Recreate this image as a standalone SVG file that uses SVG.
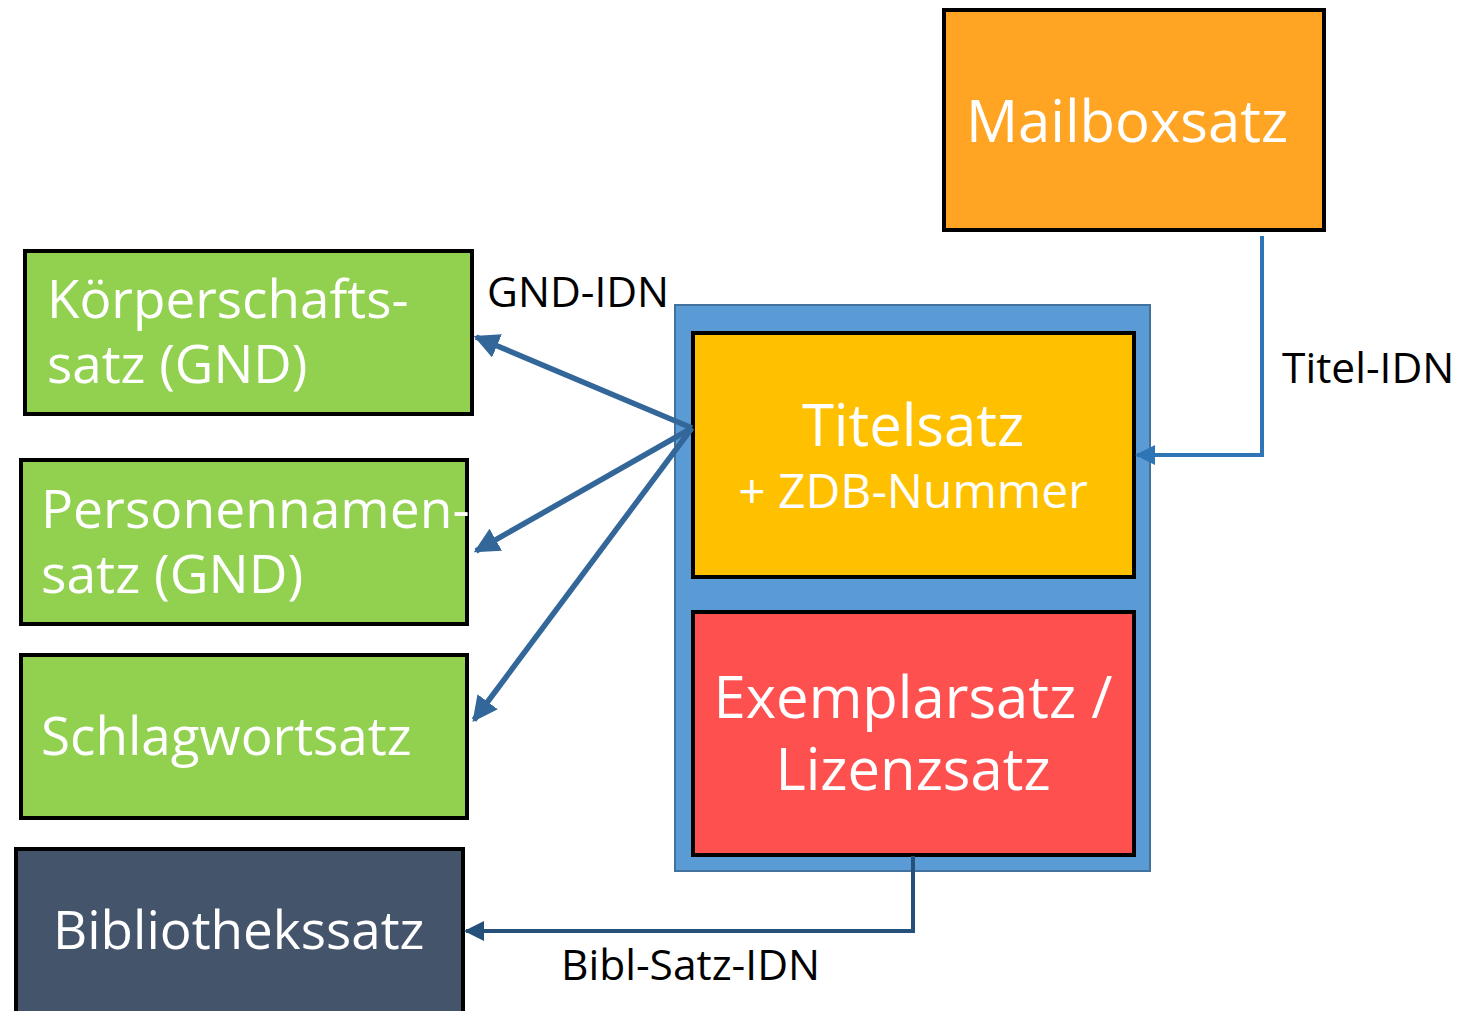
<svg xmlns="http://www.w3.org/2000/svg" width="1481" height="1011" viewBox="0 0 1481 1011">
<defs>
<style>
.box{stroke:#000;stroke-width:4}
.t{font-family:"Open Sans","Noto Sans","Liberation Sans",sans-serif;fill:#fff}
.lbl{font-family:"Open Sans","Noto Sans","Liberation Sans",sans-serif;fill:#000;font-size:42.5px}
</style>
<marker id="ah" viewBox="0 0 10 10" refX="9" refY="5" markerWidth="4.6" markerHeight="4.6" orient="auto" markerUnits="strokeWidth"><path d="M0,0 L10,5 L0,10 z" fill="#336699"/></marker>
<marker id="ah2" viewBox="0 0 10 10" refX="9" refY="5" markerWidth="5" markerHeight="5" orient="auto" markerUnits="strokeWidth"><path d="M0,0 L10,5 L0,10 z" fill="#2E75B6"/></marker>
<marker id="ah3" viewBox="0 0 10 10" refX="9" refY="5" markerWidth="5" markerHeight="5" orient="auto" markerUnits="strokeWidth"><path d="M0,0 L10,5 L0,10 z" fill="#25507A"/></marker>
</defs>
<rect width="1481" height="1011" fill="#fff"/>
<g id="mailbox">
<rect class="box" x="944" y="10" width="380" height="220" fill="#FFA523"/>
<text class="t" x="1127" y="142" font-size="58" text-anchor="middle">Mailboxsatz</text>
</g>
<g id="container">
<rect x="675" y="305" width="475" height="566" fill="#5B9BD5" stroke="#41719C" stroke-width="2"/>
</g>
<g id="titelsatz">
<rect class="box" x="693" y="333" width="441" height="244" fill="#FFC000"/>
<text class="t" x="913" y="446" font-size="58" text-anchor="middle">Titelsatz</text>
<text class="t" x="913" y="508" font-size="48" text-anchor="middle">+ ZDB-Nummer</text>
</g>
<g id="exemplarsatz">
<rect class="box" x="693" y="612" width="441" height="243" fill="#FF5050"/>
<text class="t" x="913" y="718" font-size="58" text-anchor="middle">Exemplarsatz /</text>
<text class="t" x="913" y="790" font-size="58" text-anchor="middle">Lizenzsatz</text>
</g>
<g id="koerperschaft">
<rect class="box" x="25" y="251" width="447" height="163" fill="#92D050"/>
<text class="t" x="47" y="318" font-size="53">Körperschafts-</text>
<text class="t" x="47" y="383" font-size="53">satz (GND)</text>
</g>
<g id="personennamen">
<rect class="box" x="21" y="460" width="446" height="164" fill="#92D050"/>
<text class="t" x="41" y="528" font-size="53.4">Personennamen-</text>
<text class="t" x="41" y="593" font-size="53.4">satz (GND)</text>
</g>
<g id="schlagwort">
<rect class="box" x="21" y="655" width="446" height="163" fill="#92D050"/>
<text class="t" x="41" y="755" font-size="53">Schlagwortsatz</text>
</g>
<g id="bibliothek">
<rect class="box" x="16" y="849" width="447" height="170" fill="#44546A"/>
<text class="t" x="53" y="949" font-size="53">Bibliothekssatz</text>
</g>
<g id="connectors" fill="none">
<line x1="692" y1="428" x2="476" y2="337" stroke="#336699" stroke-width="5.5" marker-end="url(#ah)"/>
<line x1="692" y1="428" x2="476" y2="551" stroke="#336699" stroke-width="5.5" marker-end="url(#ah)"/>
<line x1="692" y1="428" x2="474" y2="720" stroke="#336699" stroke-width="5.5" marker-end="url(#ah)"/>
<polyline points="1262,236 1262,455 1137,455" stroke="#2E75B6" stroke-width="4" marker-end="url(#ah2)"/>
<polyline points="913,856 913,931 466,931" stroke="#25507A" stroke-width="4" marker-end="url(#ah3)"/>
</g>
<g id="labels">
<text class="lbl" x="487" y="307">GND-IDN</text>
<text class="lbl" x="1282" y="383">Titel-IDN</text>
<text class="lbl" x="561" y="980">Bibl-Satz-IDN</text>
</g>
</svg>
